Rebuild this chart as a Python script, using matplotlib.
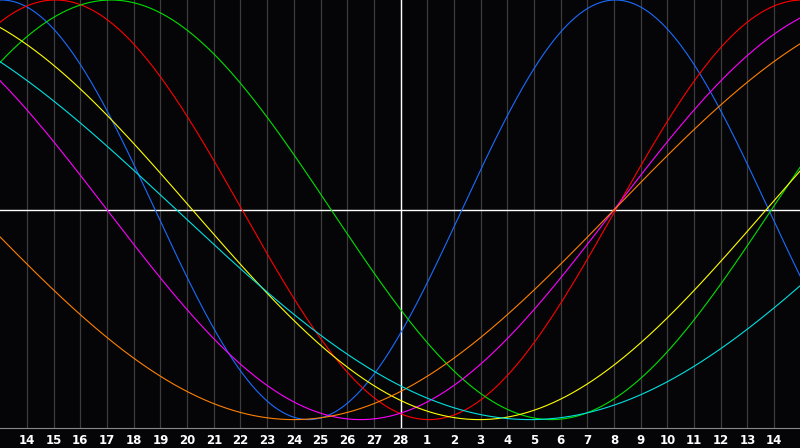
import numpy as np
import matplotlib
matplotlib.use("Agg")
import matplotlib.pyplot as plt

# day labels along the bottom
day_labels = list(range(14, 29)) + list(range(1, 15))
center_idx = 14  # the "28" column gets the white vertical line

# cycles: period (days) and index of a rising zero crossing
periods = [23, 28, 33, 38, 43, 48, 53]
rising_zero = [16.3, 22.06, 27.9, 22.0, 27.7, 22.0, 32.1]
colors = ["#1a6cff", "#ff0000", "#00e000", "#ff00ff", "#ffff00", "#ff8000", "#00e0e0"]

fig = plt.figure(figsize=(8, 4.48), dpi=100)
fig.patch.set_facecolor("#050508")
ax = fig.add_axes([0, 20 / 448, 1, 428 / 448])
ax.set_facecolor("#050508")

t = np.linspace(-1.1, 29.1, 1200)
for p, z, c in zip(periods, rising_zero, colors):
    ax.plot(t, np.sin(2 * np.pi * (t - z) / p), color=c, lw=0.8)

for i in range(len(day_labels)):
    ax.axvline(i, color="#3c3c3c", lw=0.9, zorder=0)
ax.axvline(center_idx, color="white", lw=1.0, zorder=1)
ax.axhline(0, color="white", lw=1.0, zorder=1)

ax.set_xlim(-1.012, 28.97)
ax.set_ylim(-1.04, 1.0)
ax.set_xticks([])
ax.set_yticks([])
for s in ax.spines.values():
    s.set_visible(False)
ax.spines["bottom"].set_visible(True)
ax.spines["bottom"].set_color("#888888")

for i, d in enumerate(day_labels):
    ax.text(i, -0.015, str(d), transform=ax.get_xaxis_transform(), ha="center", va="top",
            color="white", fontsize=8.5, fontweight="bold", family="DejaVu Sans")

fig.savefig("out.png", dpi=100, facecolor=fig.get_facecolor())
